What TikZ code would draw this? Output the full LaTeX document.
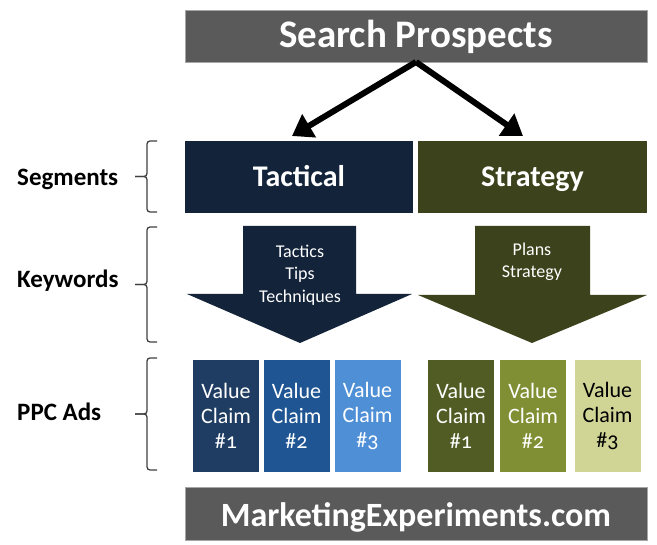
\documentclass[tikz,border=0pt]{standalone}
\usepackage{fontspec}
\setmainfont{Carlito}[Numbers=OldStyle]
\usetikzlibrary{arrows.meta}
\definecolor{bargray}{HTML}{5A5A5A}
\definecolor{navy}{HTML}{12233A}
\definecolor{olive}{HTML}{3C421B}
\definecolor{blueA}{HTML}{1F3D63}
\definecolor{blueB}{HTML}{1E5592}
\definecolor{blueC}{HTML}{4F8FD6}
\definecolor{oliveA}{HTML}{505C23}
\definecolor{oliveB}{HTML}{808F34}
\definecolor{oliveC}{HTML}{D0D596}
\definecolor{bracecol}{HTML}{404040}
\tikzset{
  bar/.style={fill=bargray, draw=gray!70, line width=0.6pt, text=white, font=\bfseries\fontsize{39}{44}\selectfont, inner sep=0pt, text height=28pt, text depth=4pt},
  segbox/.style={inner sep=0pt, text=white, font=\bfseries\fontsize{30}{34}\selectfont, text height=20pt, text depth=0pt},
  lbl/.style={font=\bfseries\fontsize{25}{30}\selectfont, text=black, anchor=base west, inner sep=0pt},
  claim/.style={inner sep=0pt, minimum width=66pt, minimum height=112pt, align=center, text=white, font=\fontsize{22}{25}\selectfont},
  kw/.style={align=center, text=white, font=\fontsize{18}{22.5}\selectfont, inner sep=0pt},
  bigarrow/.style={line width=6pt, -{Triangle[length=20pt,width=26pt]}},
  brc/.style={draw=bracecol, line width=1.3pt, rounded corners=3pt}
}
\newcommand\mybrace[2]{%
  \draw[brc] (157,#1) -- (147,#1) -- (147,{(#1+#2)/2}) -- (135,{(#1+#2)/2});
  \draw[brc] (135,{(#1+#2)/2}) -- (147,{(#1+#2)/2}) -- (147,#2) -- (157,#2);}
\begin{document}
\begin{tikzpicture}[x=1pt,y=-1pt]
\useasboundingbox (0,0) rectangle (657,545);
\fill[white] (0,0) rectangle (657,545);
% title
\node[bar, minimum width=462pt, minimum height=52pt] (title) at (416,36) {Search Prospects};
\coordinate (apex) at (416,62);
\coordinate (tipL) at (292,136);
\coordinate (tipR) at (523,136);
\draw[bigarrow] (apex) -- (tipL);
\draw[bigarrow] (apex) -- (tipR);
% segments
\node[segbox, fill=navy, minimum width=228pt, minimum height=72pt] (tac) at (299,177) {Tactical};
\node[segbox, fill=olive, minimum width=229pt, minimum height=72pt] (str) at (532.5,177) {Strategy};
% keyword arrows
\fill[navy] (243,226) -- (356,226) -- (356,294) -- (412,294) -- (300,343) -- (187,294) -- (243,294) -- cycle;
\fill[olive] (475,226) -- (590,226) -- (590,295) -- (647,295) -- (532,343) -- (418,295) -- (475,295) -- cycle;
\node[kw] (kwL) at (300,275) {Tactics\\Tips\\Techniques};
\node[kw] (kwR) at (532,262) {Plans\\Strategy};
% value claims
\node[claim, fill=blueA] (c1) at (226,416) {Value\\Claim\\\#1};
\node[claim, fill=blueB] (c2) at (296.5,416) {Value\\Claim\\\#2};
\node[claim, fill=blueC] (c3) at (367.5,416) {Value\\Claim\\\#3};
\node[claim, fill=oliveA] (c4) at (461,416) {Value\\Claim\\\#1};
\node[claim, fill=oliveB] (c5) at (533,416) {Value\\Claim\\\#2};
\node[claim, fill=oliveC, text=black] (c6) at (607.5,416) {Value\\Claim\\\#3};
% bottom bar
\node[bar, minimum width=462pt, minimum height=53pt, font=\bfseries\fontsize{34}{38}\selectfont, text height=27pt, text depth=0pt] (foot) at (416,513.5) {MarketingExperiments.com};
% labels
\node[lbl] (lseg) at (17,186) {Segments};
\node[lbl] (lkey) at (17,288) {Keywords};
\node[lbl] (lppc) at (17,421) {PPC Ads};
% braces
\mybrace{141}{212}
\mybrace{227}{342}
\mybrace{358}{470}
\end{tikzpicture}
\end{document}
